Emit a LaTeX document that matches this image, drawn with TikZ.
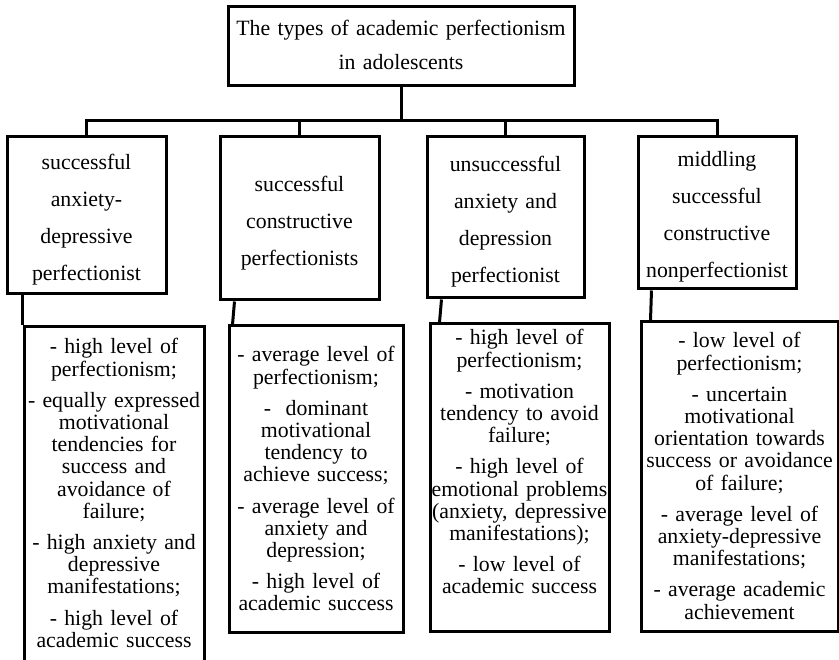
\documentclass[tikz,border=0pt]{standalone}
\usepackage{fontspec}
\setmainfont{Liberation Serif}
\usetikzlibrary{calc}
\begin{document}
\begin{tikzpicture}[x=1pt,y=-1pt,
  box/.style={draw, line width=3pt, inner xsep=0pt, inner ysep=0pt, align=center, text height=0pt},
  titlefont/.style={font=\fontsize{21.8}{34}\selectfont},
  typefont/.style={font=\fontsize{21.8}{37}\selectfont},
  detfont/.style={font=\fontsize{21.8}{22.2}\selectfont},
  link/.style={line width=3pt}]
\useasboundingbox (0,0) rectangle (839,660);
% title
\node[box, titlefont, minimum width=346pt, minimum height=79pt, text width=346pt, text depth=21pt] (T) at (401,46.5)
  {The types of academic perfectionism\\in adolescents};
% types
\node[box, typefont, minimum width=159pt, minimum height=157pt, text width=159pt, text depth=91pt] (b1) at (86.5,215.5)
  {successful\\anxiety-\\depressive\\perfectionist};
\node[box, typefont, minimum width=159pt, minimum height=163pt, text width=159pt, text depth=53pt] (b2) at (299.5,218.5)
  {successful\\constructive\\perfectionists};
\node[box, typefont, minimum width=157pt, minimum height=161pt, text width=157pt, text depth=91pt] (b3) at (505.5,217.5)
  {unsuccessful\\anxiety and\\depression\\perfectionist};
\node[box, typefont, minimum width=158pt, minimum height=152pt, text width=158pt, text depth=92pt] (b4) at (717,213)
  {middling\\successful\\constructive\\nonperfectionist};
% details
\node[box, detfont, minimum width=180pt, minimum height=343pt, text width=180pt, text depth=289pt] (d1) at (114,498.5)
  {- high level of\\perfectionism;\\[9pt]- equally expressed\\motivational\\tendencies for\\success and\\avoidance of\\failure;\\[9pt]- high anxiety and\\depressive\\manifestations;\\[9pt]- high level of\\academic success};
\node[box, detfont, minimum width=174pt, minimum height=306pt, text width=174pt, text depth=234pt] (d2) at (316,479)
  {- average level of\\perfectionism;\\[9pt]-\ \ dominant\\motivational\\tendency to\\achieve success;\\[9pt]- average level of\\anxiety and\\depression;\\[9pt]- high level of\\academic success};
\node[box, detfont, minimum width=179pt, minimum height=307pt, text width=179pt, text depth=265pt] (d3) at (519.5,477.5)
  {- high level of\\perfectionism;\\[9pt]- motivation\\tendency to avoid\\failure;\\[9pt]- high level of\\emotional problems\\(anxiety, depressive\\manifestations);\\[9pt]- low level of\\academic success};
\node[box, detfont, minimum width=197pt, minimum height=309pt, text width=197pt, text depth=257pt] (d4) at (739.5,476.5)
  {- low level of\\perfectionism;\\[9pt]- uncertain\\motivational\\orientation towards\\success or avoidance\\of failure;\\[9pt]- average level of\\anxiety-depressive\\manifestations;\\[9pt]- average academic\\achievement};
% tree connectors
\coordinate (hub) at (401,121);
\draw[link] (T.south) -- (hub);
\draw[link] (b1.north) |- (hub);
\draw[link] (b4.north) |- (hub);
\draw[link] (b2.north) -- (b2.north |- hub);
\draw[link] (b3.north) -- (b3.north |- hub);
% type-to-detail connectors
\draw[link] ($(b1.south west)+(17,0)$) -- (d1.north west);
\draw[link] ($(b2.south west)+(16,0)$) -- ($(d2.north west)+(5,0)$);
\draw[link] ($(b3.south west)+(16,0)$) -- ($(d3.north west)+(11,0)$);
\draw[link] ($(b4.south west)+(15,0)$) -- ($(d4.north west)+(11,0)$);
\end{tikzpicture}
\end{document}
